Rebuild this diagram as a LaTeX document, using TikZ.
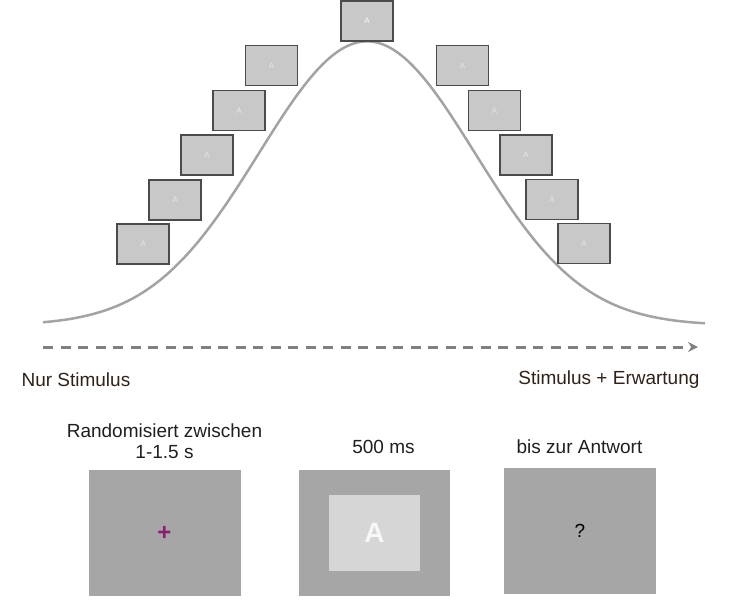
\documentclass[tikz,border=0pt]{standalone}
\usepackage{fontspec}
\setmainfont{Liberation Sans}
\usetikzlibrary{arrows.meta}

\definecolor{curvegray}{RGB}{163,163,163}
\definecolor{axisgray}{RGB}{128,128,128}
\definecolor{framegray}{RGB}{75,75,75}
\definecolor{noisegray}{RGB}{200,200,200}
\definecolor{maskgray}{RGB}{214,214,214}
\definecolor{screengray}{RGB}{166,166,166}
\definecolor{labelbrown}{RGB}{48,34,26}
\definecolor{crossmagenta}{RGB}{140,30,112}

\begin{document}
\begin{tikzpicture}[x=1pt,y=-1pt,
    thumb/.style={draw=framegray,line width=1.4pt,fill=noisegray,
        minimum width=52pt,minimum height=40pt,inner sep=0pt,
        font=\fontsize{8}{8}\selectfont,text=white!55!noisegray},
    screen/.style={fill=screengray,minimum width=152pt,minimum height=126pt,inner sep=0pt},
    label/.style={font=\fontsize{19}{21}\selectfont,text=black!88,align=center}]
    \useasboundingbox (0,0) rectangle (737,600);

    % The expectation curve
    \draw[curvegray,line width=2.5pt] plot[domain=43:705,samples=120,smooth]
        (\x,{322-284*(exp(-0.5*((\x-367)/108)^2)-0.012)});

    % The stimuli along the curve
    \node[thumb,text=white!85!noisegray] (top) at (367,21) {A};
    \foreach \x/\y [count=\i] in {271.5/65.5, 239/110.5, 207/155, 175/200, 143/244}
        \node[thumb] (l\i) at (\x,\y) {A};
    \foreach \x/\y [count=\i] in {462.5/65.5, 494.5/110.5, 526/155, 552/199.5, 584/243.5}
        \node[thumb] (r\i) at (\x,\y) {A};

    % The time axis
    \coordinate (tstart) at (43,347);
    \coordinate (tend) at (698,347);
    \draw[axisgray,line width=3pt,dash pattern=on 10pt off 7.5pt,
        -{Stealth[length=10pt,width=10pt]}] (tstart) -- (tend);
    \node[label,text=labelbrown,anchor=west] (nur) at (18,380) {Nur Stimulus};
    \node[label,text=labelbrown,anchor=east] (erw) at (703,380) {Stimulus + Erwartung};

    % The trial
    \node[screen,text=crossmagenta,font=\fontsize{24}{24}\selectfont\bfseries] (fix) at (164.5,533) {+};
    \node[screen,minimum width=151pt] (stim) at (374.5,533) {};
    \node[fill=maskgray,minimum width=91pt,minimum height=76pt,inner sep=0pt,
        text=white!80!maskgray,font=\fontsize{28}{28}\selectfont\bfseries] (mask) at (stim) {A};
    \node[screen] (resp) at (580,531) {\fontsize{19}{19}\selectfont ?};

    \node[label] (fixlab) at (164.5,441) {Randomisiert zwischen\\1-1.5 s};
    \node[label] (stimlab) at (383.5,447) {500 ms};
    \node[label] (resplab) at (579.5,446.5) {bis zur Antwort};
\end{tikzpicture}
\end{document}
